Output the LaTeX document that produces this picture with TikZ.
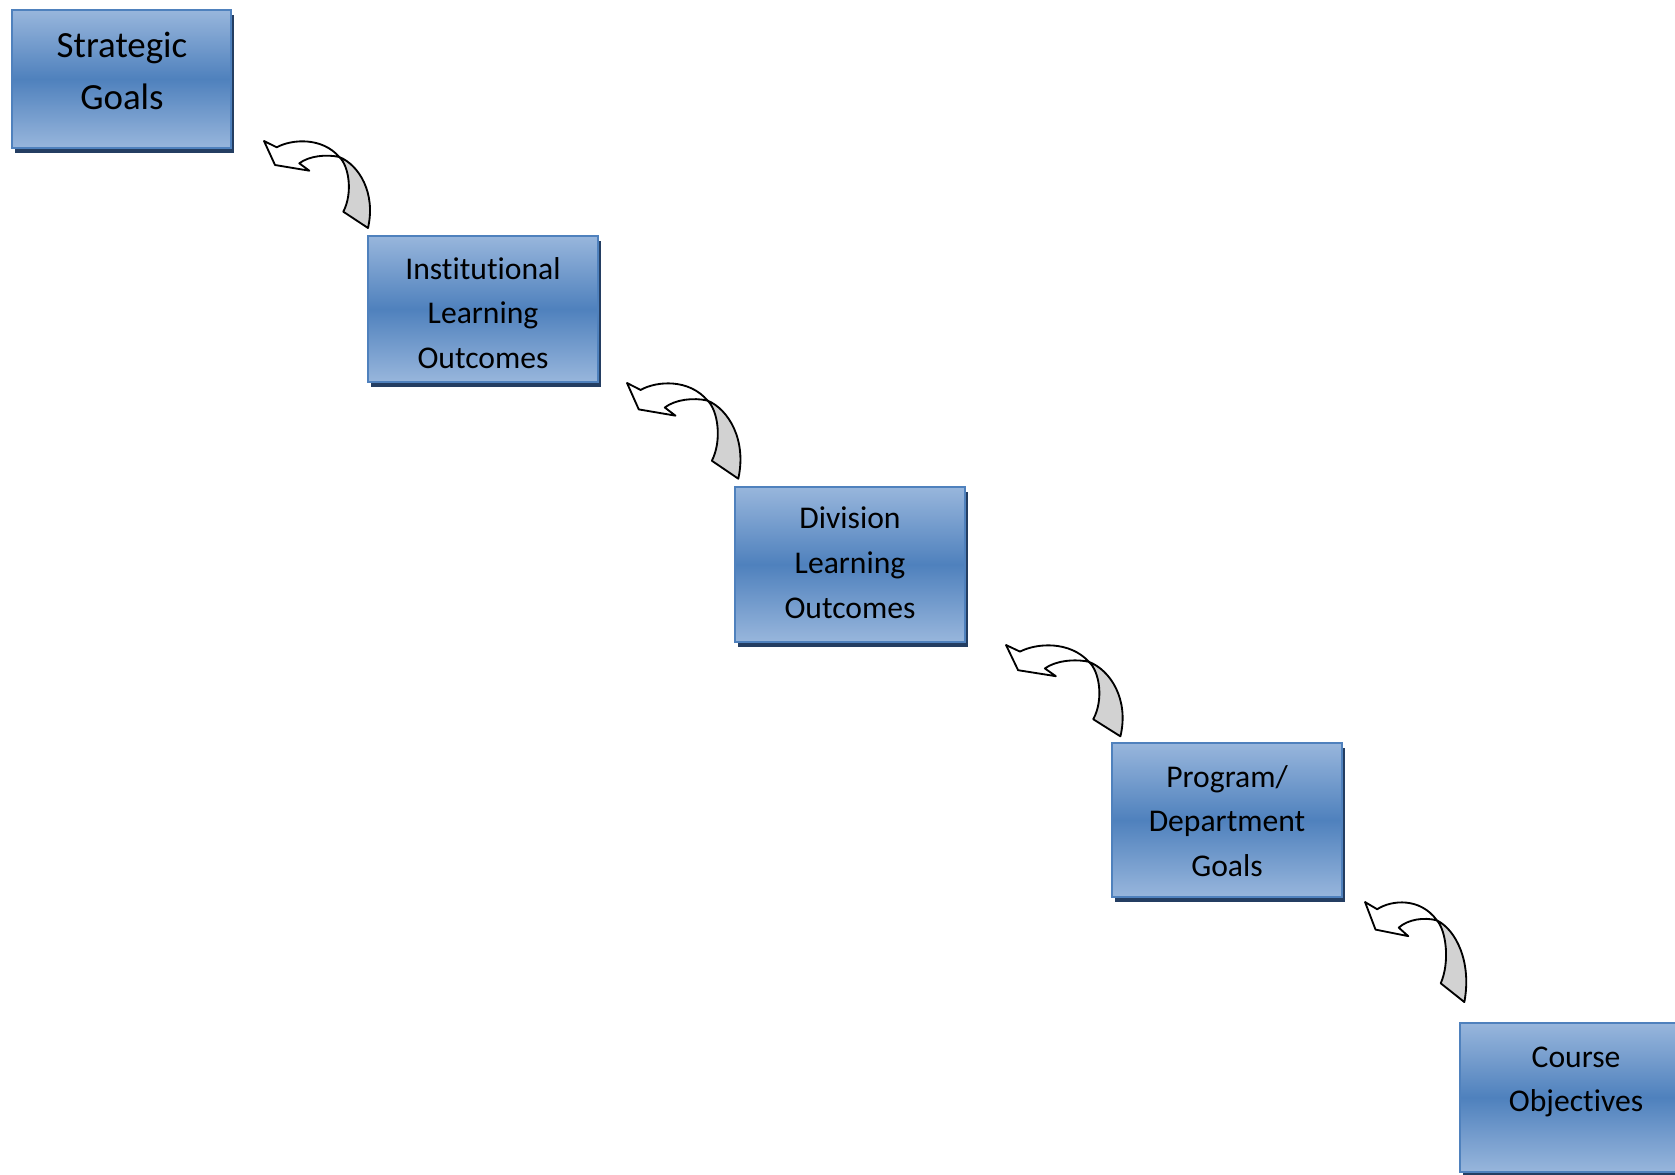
\documentclass[tikz,border=0pt]{standalone}
\usepackage{fontspec}
\setmainfont{Carlito}[Ligatures=NoCommon]
\usetikzlibrary{shadows}
\definecolor{boxedge}{RGB}{79,129,189}
\definecolor{boxlight}{RGB}{152,182,220}
\definecolor{boxmid}{RGB}{79,129,189}
\definecolor{boxshadow}{RGB}{36,62,98}
\definecolor{backgray}{RGB}{210,210,210}
\newcommand{\tI}{t\kern0pt i}% keep t and i apart
\tikzset{
  goalbox/.style={draw=boxedge,line width=1.3pt,top color=boxlight,bottom color=boxlight,middle color=boxmid,inner sep=0pt,
    drop shadow={shadow xshift=0.06cm,shadow yshift=-0.1cm,fill=boxshadow,opacity=1}},
  goaltext/.style={font=\fontsize{18}{25.5}\selectfont,align=center,inner sep=0pt},
  bigtext/.style={goaltext,font=\fontsize{21}{30}\selectfont},
  arrowfront/.style={draw=black,fill=white,line width=1.05pt,line join=round},
  arrowback/.style={draw=black,fill=backgray,line width=1.05pt,line join=round},
  bentarrow/.pic={
    % back face of the twisted tail
    \filldraw[arrowback] (75.3,16) .. controls (95,24) and (112,52) .. (104,87)
      -- (79.3,70.7) .. controls (89,52) and (85,25) .. cycle;
    % front face with the head
    \filldraw[arrowfront] (0,0) -- (12.7,6.3) .. controls (28,-2) and (58,-4) .. (75.3,16)
      .. controls (62,13) and (45,15) .. (35.3,22.3) -- (45.3,29.7) -- (11,24) -- cycle;
  }
}

\begin{document}
\begin{tikzpicture}[x=0.02cm,y=-0.02cm]
\clip (0,0) rectangle (1675,1175);
\fill[white] (0,0) rectangle (1675,1175);
\node[goalbox,minimum width=219*0.02cm,minimum height=138*0.02cm] (strategic) at (121.5,79) {};
\node[goalbox,minimum width=230*0.02cm,minimum height=146*0.02cm] (institutional) at (483,309) {};
\node[goalbox,minimum width=230*0.02cm,minimum height=155*0.02cm] (division) at (850,564.5) {};
\node[goalbox,minimum width=230*0.02cm,minimum height=154*0.02cm] (program) at (1227,820) {};
\node[goalbox,minimum width=230*0.02cm,minimum height=149*0.02cm] (course) at (1575,1097.5) {};
\node[bigtext] (strategicT) at (122,71) {Strategic\\Goals};
\node[goaltext] (institutionalT) at (483,313) {Ins\tI tu\tI onal\\Learning\\Outcomes};
\node[goaltext] (divisionT) at (850,563) {Division\\Learning\\Outcomes};
\node[goaltext] (programT) at (1227,821) {Program/\\Department\\Goals};
\node[goaltext] (courseT) at (1576,1082) {Course\\Objec\tI ves};
\pic at (264,141) {bentarrow};
\pic[xscale=1.07,yscale=1.1] at (627,383) {bentarrow};
\pic[xscale=1.1,yscale=1.05] at (1006,645) {bentarrow};
\pic[xscale=0.955,yscale=1.15] at (1365,902) {bentarrow};
\end{tikzpicture}
\end{document}
